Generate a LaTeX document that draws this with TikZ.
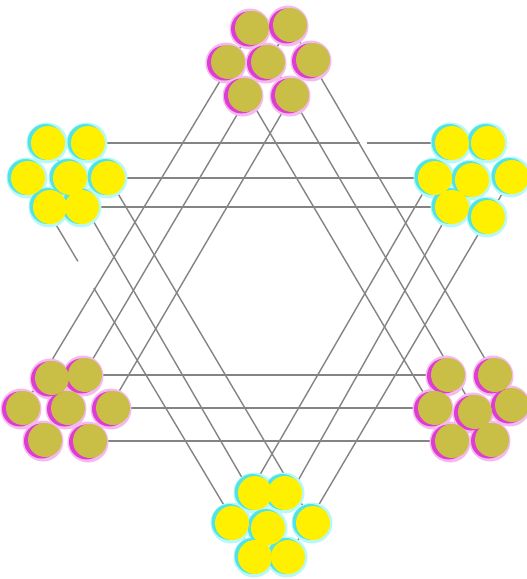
\documentclass[tikz,border=0pt]{standalone}
\usepackage{tikz}
\usetikzlibrary{calc}
\definecolor{olivedot}{RGB}{201,190,70}
\definecolor{yellowdot}{RGB}{255,240,0}
\definecolor{magshadow}{RGB}{222,60,210}
\definecolor{magglow}{RGB}{245,185,240}
\definecolor{cyanshadow}{RGB}{80,228,232}
\definecolor{cyanglow}{RGB}{185,248,248}
\definecolor{linegray}{RGB}{132,132,132}
\tikzset{
  starline/.style={draw=linegray, line width=1.4pt},
  olivecirc/.style={circle, fill=olivedot, inner sep=0pt, minimum size=34pt},
  yellowcirc/.style={circle, fill=yellowdot, inner sep=0pt, minimum size=34pt},
  magshade/.style={fill=magshadow},
  magglowshade/.style={fill=magglow},
  cyanshade/.style={fill=cyanshadow},
  cyanglowshade/.style={fill=cyanglow},
}
\begin{document}
\begin{tikzpicture}[x=1pt,y=-1pt]
\useasboundingbox (0,0) rectangle (527,579);
\fill[white] (0,0) rectangle (527,579);
% cluster circle centres
\foreach \n/\x/\y in {
  T-TL/252/28, T-TR/290/25, T-ML/228/62, T-C/268/62, T-MR/313/60, T-BL/245/95, T-BR/292/95,
  UL-TL/48/143, UL-TR/88/143, UL-ML/28/178, UL-C/70/178, UL-MR/108/178, UL-BL/50/207, UL-BR/82/207,
  UR-TL/452/143, UR-TR/488/143, UR-ML/435/178, UR-C/472/180, UR-MR/512/177, UR-BL/452/207, UR-BR/488/217,
  LL-TL/52/378, LL-TR/85/375, LL-ML/23/408, LL-C/68/408, LL-MR/113/408, LL-BL/45/440, LL-BR/90/441,
  LR-TL/448/375, LR-TR/495/375, LR-ML/435/408, LR-C/475/412, LR-MR/512/405, LR-BL/452/441, LR-BR/492/440,
  B-TL/255/493, B-TR/285/493, B-ML/232/523, B-C/268/528, B-MR/313/523, B-BL/255/557, B-BR/288/557}
  \coordinate (\n) at (\x,\y);
% horizontal edges
\draw[starline] (UL-TR) -- ($(UL-TR)!0.747!(UR-TL)$);
\draw[starline] ($(UL-TR)!0.766!(UR-TL)$) -- (UR-TL);
\draw[starline] (UL-MR) -- (UR-ML);
\draw[starline] (UL-BR) -- (UR-BL);
\draw[starline] (LL-TR) -- (LR-TL);
\draw[starline] (LL-MR) -- (LR-ML);
\draw[starline] (LL-BR) -- (LR-BL);
% upward triangle, left edge
\draw[starline] (T-TL) -- (LL-ML);
\draw[starline] (T-TR) -- (LL-BL);
\draw[starline] (T-MR) -- (LL-BR);
% upward triangle, right edge
\draw[starline] (T-TR) -- (LR-MR);
\draw[starline] (T-TL) -- (LR-BR);
\draw[starline] (T-ML) -- (LR-BL);
% downward triangle, left edge
\draw[starline] (UL-TR) -- (B-MR);
\draw[starline] (UL-TL) -- (B-BR);
\draw[starline] (UL-ML) -- ($(UL-ML)!0.22!(B-BL)$);
\draw[starline] ($(UL-ML)!0.29!(B-BL)$) -- (B-BL);
% downward triangle, right edge
\draw[starline] (UR-TL) -- (B-ML);
\draw[starline] (UR-TR) -- (B-BL);
\draw[starline] (UR-MR) -- (B-BR);
% shadows
\foreach \c in {T,LL,LR}
  \foreach \p in {TL,TR,ML,C,MR,BL,BR}
    \fill[magglowshade] ([shift={(-2,1)}]\c-\p) circle (20.5);
\foreach \c in {T,LL,LR}
  \foreach \p in {TL,TR,ML,C,MR,BL,BR}
    \fill[magshade] ([shift={(-3.5,1)}]\c-\p) circle (17.5);
\foreach \c in {UL,UR,B}
  \foreach \p in {TL,TR,ML,C,MR,BL,BR}
    \fill[cyanglowshade] ([shift={(-1,0)}]\c-\p) circle (20.5);
\foreach \c in {UL,UR,B}
  \foreach \p in {TL,TR,ML,C,MR,BL,BR}
    \fill[cyanshade] ([shift={(-2.5,-1)}]\c-\p) circle (18);
% circles
\foreach \c in {T,LL,LR}
  \foreach \p in {TL,TR,ML,C,MR,BL,BR}
    \node[olivecirc] (\c-\p-dot) at (\c-\p) {};
\foreach \c in {UL,UR,B}
  \foreach \p in {TL,TR,ML,C,MR,BL,BR}
    \node[yellowcirc] (\c-\p-dot) at (\c-\p) {};
\end{tikzpicture}
\end{document}
